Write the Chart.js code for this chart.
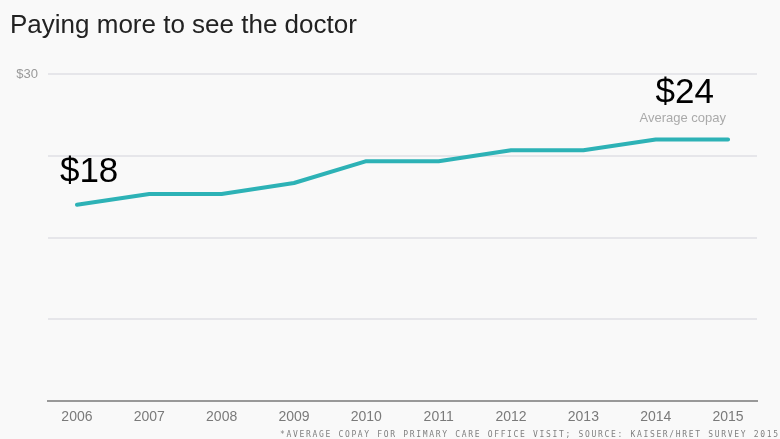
<!DOCTYPE html>
<html>
<head>
<meta charset="utf-8">
<script src="https://cdn.jsdelivr.net/npm/chart.js@4.4.0/dist/chart.umd.min.js"></script>
<style>
html,body{margin:0;padding:0;background:#f9f9f9;}
#wrap{position:relative;width:780px;height:439px;}
</style>
</head>
<body>
<div id="wrap"><canvas id="c" width="780" height="439"></canvas></div>
<script>
const years = [2006, 2007, 2008, 2009, 2010, 2011, 2012, 2013, 2014, 2015];
const copay = [18, 19, 19, 20, 22, 22, 23, 23, 24, 24];
const yTickLabels = {30: '$30'};
const titleText = 'Paying more to see the doctor';
const footnoteText = '*AVERAGE COPAY FOR PRIMARY CARE OFFICE VISIT; SOURCE: KAISER/HRET SURVEY 2015';
const seriesName = 'Average copay';

const FONT = '"Liberation Sans", Arial, Helvetica, sans-serif';

const decorPlugin = {
  id: 'decor',
  beforeDraw(chart) {
    const ctx = chart.ctx;
    ctx.save();
    ctx.fillStyle = '#f9f9f9';
    ctx.fillRect(0, 0, chart.width, chart.height);
    ctx.restore();
  },
  afterDraw(chart) {
    const ctx = chart.ctx;
    const meta = chart.getDatasetMeta(0);
    ctx.save();
    // title
    ctx.fillStyle = '#222';
    ctx.font = '26px ' + FONT;
    ctx.textAlign = 'left';
    ctx.textBaseline = 'alphabetic';
    ctx.fillText(titleText, 10, 33);

    // first value label
    const p0 = meta.data[0];
    ctx.fillStyle = '#000';
    ctx.font = '35px ' + FONT;
    ctx.textAlign = 'left';
    ctx.fillText('$' + copay[0], p0.x - 17, p0.y - 23);

    // last value label (above 2014 point)
    const pi = copay.length - 2;
    const p1 = meta.data[pi];
    ctx.textAlign = 'center';
    ctx.fillText('$' + copay[copay.length - 1], p1.x + 29, p1.y - 36);
    ctx.fillStyle = '#aaa';
    ctx.font = '13px ' + FONT;
    ctx.fillText(seriesName, p1.x + 27, p1.y - 17);

    // footnote
    ctx.fillStyle = '#808080';
    ctx.font = '8px "DejaVu Sans Mono", monospace';
    ctx.textAlign = 'left';
    const target = 498;
    const w = ctx.measureText(footnoteText).width;
    const n = footnoteText.length;
    const ls = (target - w) / (n - 1);
    ctx.letterSpacing = ls + 'px';
    ctx.fillText(footnoteText, 778 - target, 437);
    ctx.restore();
  }
};

const ctx = document.getElementById('c');
new Chart(ctx, {
  type: 'line',
  data: {
    datasets: [{
      label: seriesName,
      data: years.map((y, i) => ({x: y, y: copay[i]})),
      borderColor: '#2db2b6',
      borderWidth: 4,
      pointRadius: 0,
      tension: 0,
      borderCapStyle: 'round',
      borderJoinStyle: 'round',
      fill: false
    }]
  },
  options: {
    responsive: false,
    animation: false,
    devicePixelRatio: 1,
    layout: {padding: {top: 74, right: 23, left: 0, bottom: 0}},
    plugins: {legend: {display: false}, tooltip: {enabled: false}, title: {display: false}},
    scales: {
      x: {
        type: 'linear',
        min: 2005.6,
        max: 2015.4,
        afterFit(s) { s.height = 38; },
        ticks: {
          stepSize: 1,
          includeBounds: false,
          autoSkip: false,
          maxRotation: 0,
          padding: 8,
          color: '#7a7a7a',
          font: {family: FONT, size: 14},
          callback: v => String(v)
        },
        grid: {display: false, drawTicks: false},
        border: {display: true, color: '#999', width: 2}
      },
      y: {
        min: 0,
        max: 30,
        afterFit(s) { s.width = 48; },
        ticks: {
          stepSize: 7.5,
          padding: 10,
          color: '#999',
          font: {family: FONT, size: 13},
          callback: v => yTickLabels[v] || ''
        },
        grid: {color: '#e6e6ea', lineWidth: 2, drawTicks: false},
        border: {display: false}
      }
    }
  },
  plugins: [decorPlugin]
});
</script>
</body>
</html>
